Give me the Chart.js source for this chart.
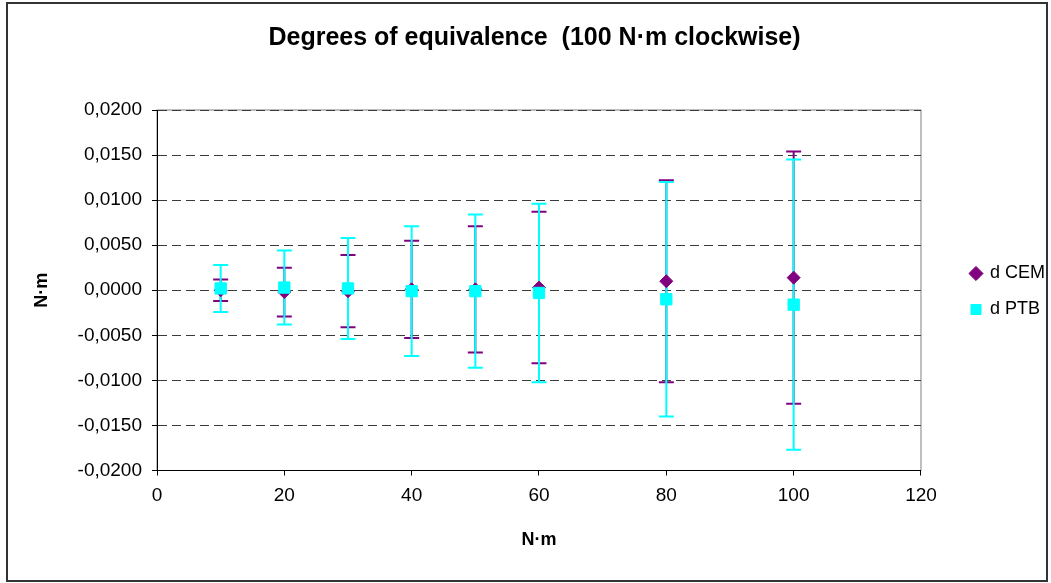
<!DOCTYPE html>
<html>
<head>
<meta charset="utf-8">
<script src="https://cdn.jsdelivr.net/npm/chart.js@4.4.0/dist/chart.umd.min.js"></script>
<style>
  html, body { margin: 0; padding: 0; background: #fff; }
  canvas { display: block; background: #fff; }
</style>
</head>
<body>
<canvas id="chart" width="1051" height="583"></canvas>
<script>
  // torque steps (N·m)
  const xs = [10, 20, 30, 40, 50, 60, 80, 100];

  // degrees of equivalence and expanded uncertainties
  const cemValues = [0.0000, -0.0002, -0.0001, 0.0001, 0.0001, 0.0003, 0.0010, 0.0014];
  const cemU = [0.0012, 0.0027, 0.0040, 0.0054, 0.0070, 0.0084, 0.0112, 0.0140];
  const ptbValues = [0.0002, 0.0003, 0.0002, -0.0001, -0.0001, -0.0003, -0.0010, -0.0016];
  const ptbU = [0.0026, 0.0041, 0.0056, 0.0072, 0.0085, 0.0099, 0.0130, 0.0161];

  const seriesNames = ["d CEM", "d PTB"];
  const cemColor = "#800080";
  const ptbColor = "#00FFFF";

  const fmtY = (v) => (Math.abs(v) < 1e-9 ? 0 : v).toFixed(4).replace(".", ",");

  const points = (vals) => xs.map((x, i) => ({ x: x, y: vals[i] }));

  // vertical bar from value-U to value+U, a null point breaks the line
  const errorBars = (vals, u) => {
    const out = [];
    xs.forEach((x, i) => {
      out.push({ x: x, y: vals[i] - u[i] });
      out.push({ x: x, y: vals[i] + u[i] });
      out.push({ x: x, y: null });
    });
    return out;
  };

  const chartDecor = {
    id: "chartDecor",
    beforeDraw(chart) {
      const { ctx, chartArea: a } = chart;
      ctx.save();
      ctx.strokeStyle = "#808080";
      ctx.lineWidth = 1;
      ctx.strokeRect(a.left, a.top, a.right - a.left, a.bottom - a.top);
      ctx.restore();
    },
    afterLayout(chart) {
      const lg = chart.legend;
      lg.left = chart.chartArea.right + 32;
      lg.right = lg.left + lg.width;
    },
    afterDraw(chart) {
      const ctx = chart.ctx;
      ctx.save();
      ctx.strokeStyle = "#333";
      ctx.lineWidth = 2;
      ctx.strokeRect(7, 3, 1040, 578);
      ctx.restore();
    },
  };

  Chart.defaults.font.family = "'Liberation Sans', Arial, sans-serif";
  Chart.defaults.color = "#000";

  new Chart(document.getElementById("chart"), {
    type: "scatter",
    data: {
      datasets: [
        {
          label: seriesNames[0],
          data: points(cemValues),
          pointStyle: "rectRot",
          pointRadius: 6.5,
          backgroundColor: cemColor,
          borderColor: cemColor,
          pointBorderWidth: 1,
          order: 1,
        },
        {
          label: seriesNames[1],
          data: points(ptbValues),
          pointStyle: "rect",
          pointRadius: 8,
          backgroundColor: ptbColor,
          borderColor: ptbColor,
          pointBorderWidth: 1,
          order: 0,
        },
        {
          label: "U CEM",
          data: errorBars(cemValues, cemU),
          showLine: true,
          spanGaps: false,
          borderColor: cemColor,
          borderWidth: 2,
          pointStyle: "line",
          pointRadius: 7.5,
          pointBorderWidth: 2,
          pointBorderColor: cemColor,
          order: 3,
        },
        {
          label: "U PTB",
          data: errorBars(ptbValues, ptbU),
          showLine: true,
          spanGaps: false,
          borderColor: ptbColor,
          borderWidth: 2,
          pointStyle: "line",
          pointRadius: 7.5,
          pointBorderWidth: 2,
          pointBorderColor: ptbColor,
          order: 2,
        },
      ],
    },
    options: {
      responsive: false,
      animation: false,
      layout: { padding: { left: 46, right: 28, top: 0, bottom: 0 } },
      scales: {
        x: {
          type: "linear",
          min: 0,
          max: 120,
          afterFit: (scale) => { scale.height = 112.5; },
          ticks: { stepSize: 20, font: { size: 19 }, padding: 9 },
          grid: { drawOnChartArea: false, tickLength: 5, tickColor: "#000" },
          border: { color: "#000", width: 1 },
          title: { display: true, text: "N·m", font: { size: 18, weight: "bold" }, padding: { top: 0, bottom: 32 } },
        },
        y: {
          min: -0.02,
          max: 0.02,
          afterFit: (scale) => { scale.width = 111; },
          ticks: { stepSize: 0.005, font: { size: 19 }, padding: 10, callback: (v) => fmtY(v) },
          grid: { color: "#3a3a3a", lineWidth: 1, tickLength: 5, tickColor: "#000", tickBorderDash: [] },
          border: { color: "#000", width: 1, dash: [9, 5] },
          title: { display: true, text: "N·m", font: { size: 18, weight: "bold" }, padding: { top: -15, bottom: 0 } },
        },
      },
      plugins: {
        title: {
          display: true,
          text: "Degrees of equivalence  (100 N·m clockwise)",
          font: { size: 25, weight: "bold" },
          color: "#000",
          padding: { top: 23, bottom: 57 },
        },
        legend: {
          position: "right",
          labels: {
            usePointStyle: true,
            boxHeight: 10,
            boxWidth: 10,
            padding: 18,
            font: { size: 18 },
            filter: (item) => item.datasetIndex < 2,
            sort: (a, b) => a.datasetIndex - b.datasetIndex,
          },
        },
        tooltip: { enabled: false },
      },
    },
    plugins: [chartDecor],
  });
</script>
</body>
</html>
